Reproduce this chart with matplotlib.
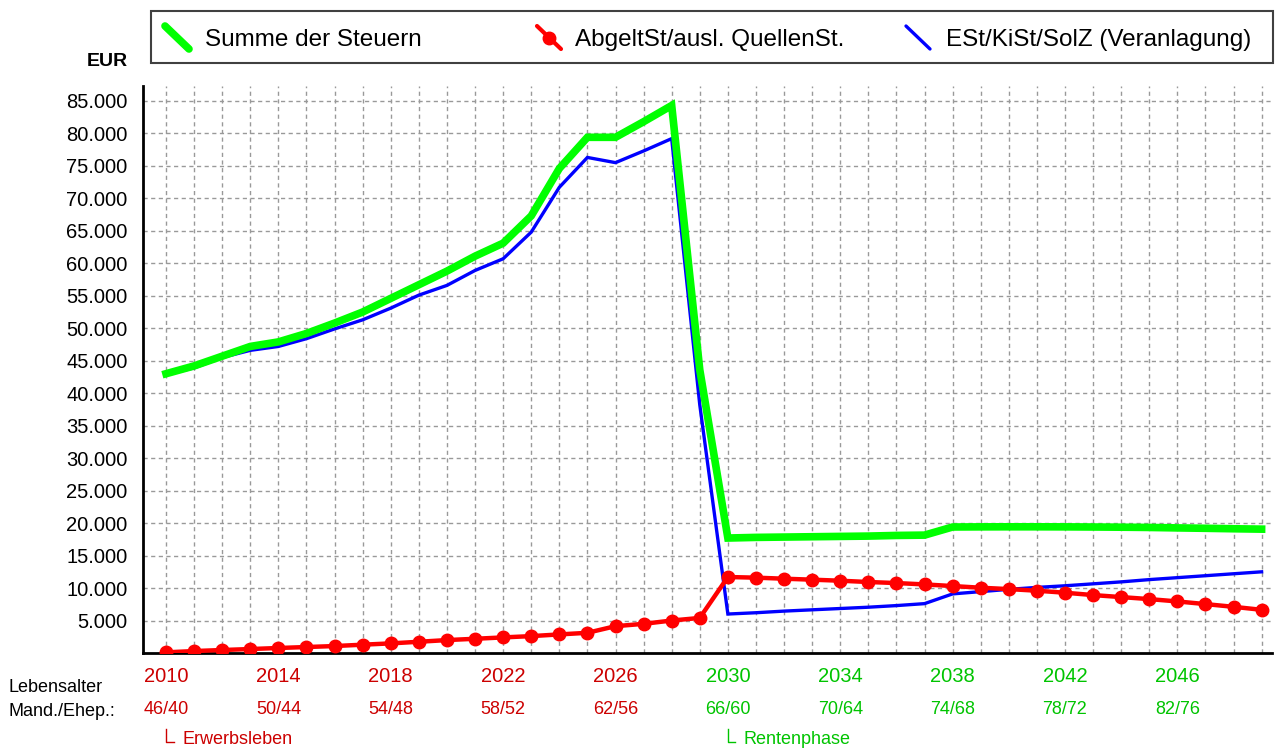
import matplotlib
matplotlib.use('Agg')
import matplotlib.pyplot as plt
from matplotlib.lines import Line2D
from matplotlib.patches import Rectangle
from matplotlib.transforms import blended_transform_factory

plt.rcParams['font.family'] = ['Liberation Sans', 'DejaVu Sans']

# Data
years = list(range(2010, 2050))
summe = [43000, 44200, 45700, 47200, 47900, 49200, 50800, 52500, 54600, 56700,
         58800, 61100, 63100, 67300, 74600, 79400, 79400, 81800, 84300, 43600,
         17700, 17800, 17850, 17900, 17950, 18000, 18100, 18150, 19400, 19420,
         19430, 19430, 19420, 19400, 19370, 19330, 19260, 19200, 19130, 19070]
abgelt = [100, 300, 460, 610, 770, 920, 1070, 1280, 1480, 1730,
          1990, 2190, 2400, 2600, 2860, 3110, 4130, 4490, 5000, 5400,
          11700, 11600, 11440, 11290, 11130, 10930, 10770, 10560, 10310, 10050,
          9840, 9590, 9280, 8920, 8610, 8300, 7940, 7530, 7110, 6650]
est = [42900, 43900, 45500, 46600, 47200, 48400, 49900, 51300, 53100, 55100,
       56600, 58900, 60700, 64800, 71700, 76300, 75500, 77300, 79200, 38200,
       6000, 6200, 6450, 6650, 6850, 7050, 7300, 7600, 9100, 9450,
       9800, 10100, 10350, 10650, 10950, 11300, 11600, 11900, 12200, 12500]

label_years = list(range(2010, 2050, 4))
age_labels = ['46/40', '50/44', '54/48', '58/52', '62/56',
              '66/60', '70/64', '74/68', '78/72', '82/76']
retire_year = 2030
y_ticks = list(range(5000, 90000, 5000))

series_names = ['Summe der Steuern', 'AbgeltSt/ausl. QuellenSt.', 'ESt/KiSt/SolZ (Veranlagung)']

RED_TXT = '#cc0000'
GREEN_TXT = '#00c400'

W, H = 1275, 749
fig = plt.figure(figsize=(W / 100, H / 100), dpi=100)
ax = fig.add_axes([143 / W, 1 - 653 / H, (1272 - 143) / W, (653 - 86) / H])

ax.plot(years, est, color='#0000ff', lw=2.4, zorder=3, solid_joinstyle='miter')
ax.plot(years, abgelt, color='#ff0000', lw=3.2, marker='o', ms=9, zorder=4)
ax.plot(years, summe, color='#00ff00', lw=5.5, zorder=5, solid_joinstyle='miter')

ax.set_xlim(2009.18, 2049.37)
ax.set_ylim(0, 87300)

ax.set_xticks(years)
ax.set_xticklabels([str(y) if y in label_years else '' for y in years], fontsize=14.5)
for y, lab in zip(years, ax.get_xticklabels()):
    lab.set_color(RED_TXT if y < retire_year else GREEN_TXT)
ax.set_yticks(y_ticks)
ax.set_yticklabels([f'{v:,}'.replace(',', '.') for v in y_ticks], fontsize=14.5)
ax.tick_params(axis='both', length=0)
ax.tick_params(axis='x', pad=10)
ax.tick_params(axis='y', pad=11)

ax.grid(True, color='#999999', lw=1, ls=(0, (3, 2.5)))
ax.set_axisbelow(True)
for s in ['top', 'right']:
    ax.spines[s].set_visible(False)
for s in ['left', 'bottom']:
    ax.spines[s].set_linewidth(2)
    ax.spines[s].set_color('black')

fig.text(128 / W, 1 - 62 / H, 'EUR', fontsize=14, fontweight='bold', ha='right', va='center')

# age labels below year labels
tr = blended_transform_factory(ax.transData, fig.transFigure)
for y, a in zip(label_years, age_labels):
    ax.text(y, 1 - 710 / H, a, transform=tr, ha='center', va='center', fontsize=13,
            color=RED_TXT if y < retire_year else GREEN_TXT, clip_on=False)
fig.text(8 / W, 1 - 688 / H, 'Lebensalter', fontsize=13, va='center')
fig.text(8 / W, 1 - 711 / H, 'Mand./Ehep.:', fontsize=13, va='center')

# phase markers
for yr, name, col in [(2010, 'Erwerbsleben', RED_TXT), (retire_year, 'Rentenphase', GREEN_TXT)]:
    ax.add_line(Line2D([yr, yr, yr + 0.27], [1 - 729 / H, 1 - 742 / H, 1 - 742 / H],
                       transform=tr, color=col, lw=1, clip_on=False))
    ax.text(yr + 0.57, 1 - 740 / H, name, transform=tr, fontsize=13, color=col,
            va='center', ha='left', clip_on=False)

# legend box
fig.patches.append(Rectangle((151 / W, 1 - 63 / H), (1273 - 151) / W, 52 / H,
                             transform=fig.transFigure, fill=False, ec='#404040', lw=1.5))
leg_x = [165, 537, 906]
leg_txt_x = [205, 575, 946]
leg_style = [dict(color='#00ff00', lw=5.5), dict(color='#ff0000', lw=3), dict(color='#0000ff', lw=2.4)]
for i, name in enumerate(series_names):
    x0 = leg_x[i]
    fig.add_artist(Line2D([x0 / W, (x0 + 24) / W], [1 - 26 / H, 1 - 49 / H],
                          transform=fig.transFigure, solid_capstyle='round', **leg_style[i]))
    if i == 1:
        fig.add_artist(Line2D([(x0 + 12) / W], [1 - 37.5 / H], transform=fig.transFigure,
                              marker='o', ms=9, color='#ff0000'))
    fig.text(leg_txt_x[i] / W, 1 - 40 / H, name, fontsize=17.5, va='center', ha='left')

fig.savefig('out.png', dpi=100)
